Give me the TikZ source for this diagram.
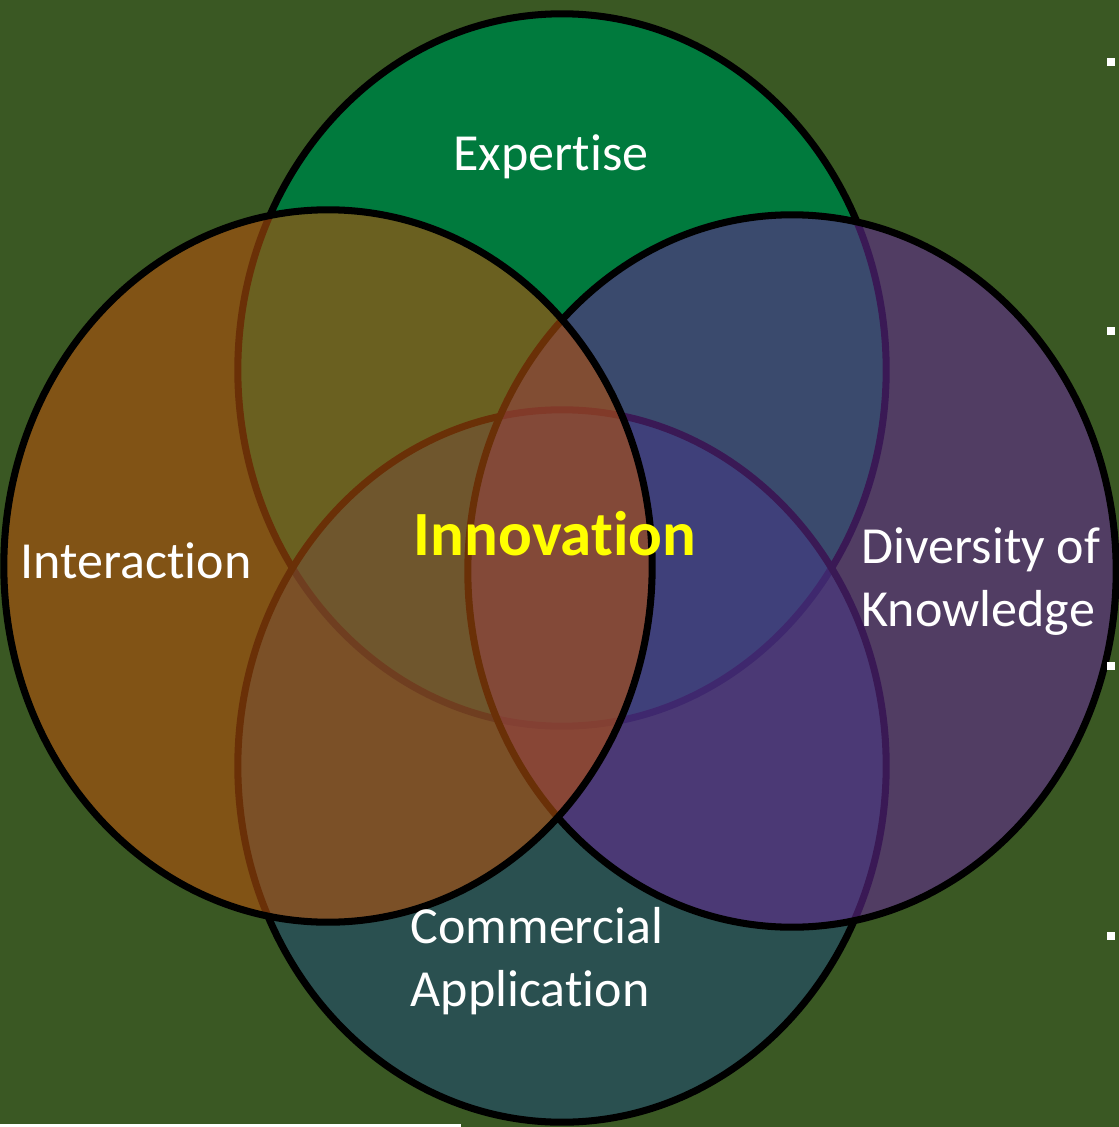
\documentclass[tikz,border=0pt]{standalone}
\usepackage{fontspec}
\setmainfont[Ligatures={NoCommon}]{Carlito}
\usetikzlibrary{shapes.geometric}

\definecolor{bgcol}{RGB}{58,88,35}
\definecolor{expcol}{RGB}{0,122,61}
\definecolor{comcol}{RGB}{28,74,125}
\definecolor{divcol}{RGB}{97,43,142}
\definecolor{intcol}{RGB}{177,80,13}
\definecolor{innocol}{RGB}{255,255,0}

\begin{document}
\begin{tikzpicture}[x=0.01cm, y=-0.01cm,
    ring/.style = {ellipse, draw=black, line width=2pt, inner sep=0pt,
                   minimum width=6.48cm, minimum height=7.12cm},
    label/.style = {text=white, inner sep=0pt, font=\fontsize{14.8}{17.9}\selectfont},
    bullet/.style = {fill=white, minimum size=0.08cm, inner sep=0pt}]

    % background and page size
    \fill[bgcol] (0,0) rectangle (1119,1127);
    \useasboundingbox (0,0) rectangle (1119,1127);

    % the four circles
    \node[ring, fill=expcol] (exp) at (562, 370) {};
    \node[ring, fill=comcol, fill opacity=0.5] (com) at (562, 766) {};
    \node[ring, fill=divcol, fill opacity=0.6] (div) at (792, 571) {};
    \node[ring, fill=intcol, fill opacity=0.6] (int) at (328, 566) {};

    % labels
    \node[label, anchor=base] (exptext) at (551, 170) {Expertise};
    \node[label, anchor=base] (inttext) at (136, 578) {Interaction};
    \node[label, align=left, anchor=west] (divtext) at (861, 582) {Diversity of\\Knowledge};
    \node[label, align=left, anchor=west] (comtext) at (410, 961) {Commercial\\Application};
    \node[text=innocol, inner sep=0pt, anchor=base,
          font=\fontsize{17.9}{20}\selectfont\bfseries] (inno) at (555, 555) {Innovation};

    % stray marks at the edges
    \node[bullet] (b1) at (1111, 62) {};
    \node[bullet] (b2) at (1111, 331) {};
    \node[bullet] (b3) at (1111, 666) {};
    \node[bullet] (b4) at (1111, 936) {};
    \fill[white] (0,1124) rectangle (461,1127);
\end{tikzpicture}
\end{document}
